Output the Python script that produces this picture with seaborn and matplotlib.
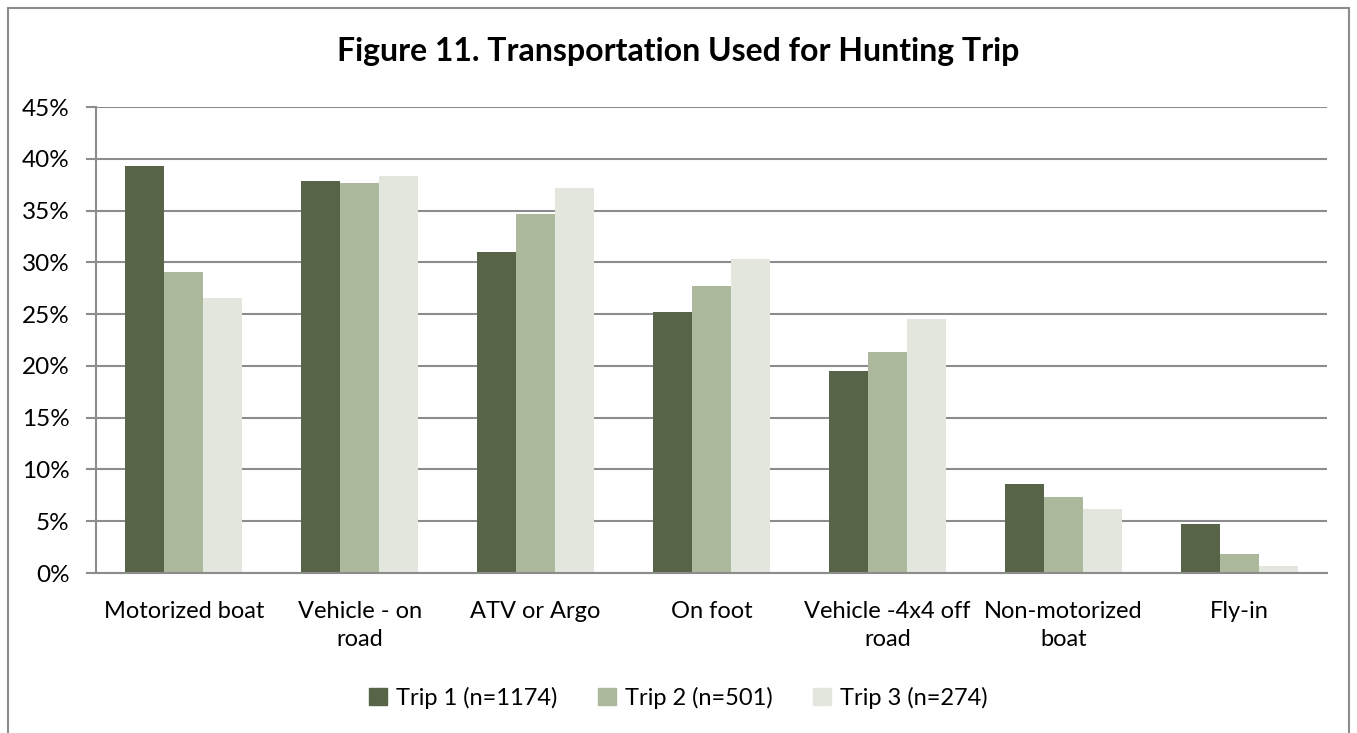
import pandas as pd
import matplotlib.pyplot as plt
import seaborn as sns
from matplotlib.patches import Rectangle
from matplotlib.ticker import FuncFormatter, FixedLocator

categories = ["Motorized boat", "Vehicle - on\nroad", "ATV or Argo", "On foot",
              "Vehicle -4x4 off\nroad", "Non-motorized\nboat", "Fly-in"]
series = ["Trip 1 (n=1174)", "Trip 2 (n=501)", "Trip 3 (n=274)"]
trip1 = [39.3, 37.9, 31.0, 25.2, 19.5, 8.6, 4.7]
trip2 = [29.1, 37.7, 34.7, 27.7, 21.3, 7.3, 1.8]
trip3 = [26.6, 38.3, 37.2, 30.3, 24.5, 6.2, 0.7]
colors = ["#576448", "#abb89c", "#e3e6dd"]

rows = []
for name, vals in zip(series, [trip1, trip2, trip3]):
    for cat, v in zip(categories, vals):
        rows.append({"cat": cat, "trip": name, "pct": v})
df = pd.DataFrame(rows)

sns.set_style("white")
plt.rcParams['font.family'] = ['Lato', 'DejaVu Sans']
plt.rcParams['text.color'] = 'black'
plt.rcParams['xtick.labelcolor'] = 'black'
plt.rcParams['ytick.labelcolor'] = 'black'

fig = plt.figure(figsize=(13.57, 7.33), dpi=100)
ax = fig.add_axes([96 / 1357, 1 - 573 / 733, (1327 - 96) / 1357, (573 - 107) / 733])

sns.barplot(data=df, x="cat", y="pct", hue="trip", palette=colors, width=0.665,
            gap=0, saturation=1, linewidth=0, ax=ax, legend=True)

ax.set_ylim(0, 45)
ax.set_xlim(-0.5, len(categories) - 0.5)
ax.set_yticks(range(0, 46, 5))
ax.yaxis.set_major_formatter(FuncFormatter(lambda v, p: f"{int(v)}%"))
ax.grid(axis='y', color='#8c8c8c', linewidth=1.5)
ax.set_axisbelow(True)
ax.set_xlabel("")
ax.set_ylabel("")

for s in ["top", "right"]:
    ax.spines[s].set_visible(False)
for s in ["left", "bottom"]:
    ax.spines[s].set_color('#8c8c8c')
    ax.spines[s].set_linewidth(1.5)

# category ticks between groups
ax.xaxis.set_major_locator(FixedLocator(range(len(categories))))
ax.set_xticklabels(categories, linespacing=1.4)
ax.tick_params(axis='x', length=0, labelsize=17, pad=20, labelcolor='black')
ax.xaxis.set_minor_locator(FixedLocator([i - 0.5 for i in range(len(categories) + 1)]))
ax.tick_params(axis='x', which='minor', length=7, width=1.5, color='#8c8c8c', direction='out')
ax.tick_params(axis='y', length=7, width=1.5, color='#8c8c8c', labelsize=17.5, direction='out',
               left=True, pad=12, labelcolor='black')
for t in ax.get_xticklabels():
    t.set_verticalalignment('top')
    t.set_multialignment('center')

ax.legend_.remove()
handles = [Rectangle((0, 0), 1, 1, color=c) for c in colors]
fig.legend(handles, series, loc='center', bbox_to_anchor=(0.5, 1 - 698 / 733), ncol=3,
           frameon=False, fontsize=17, handlelength=0.75, handleheight=0.75,
           columnspacing=1.7, handletextpad=0.4, labelcolor='black')

fig.text(0.5, 1 - 52 / 733, "Figure 11. Transportation Used for Hunting Trip",
         ha='center', va='center', fontsize=23, fontweight='bold', color='black')

fig.patches.append(Rectangle((8 / 1357, -0.01), (1349 - 8) / 1357, 1 - 8 / 733 + 0.01,
                             transform=fig.transFigure, fill=False,
                             edgecolor='#8c8c8c', linewidth=1.5))

fig.savefig("out.png", dpi=100)
